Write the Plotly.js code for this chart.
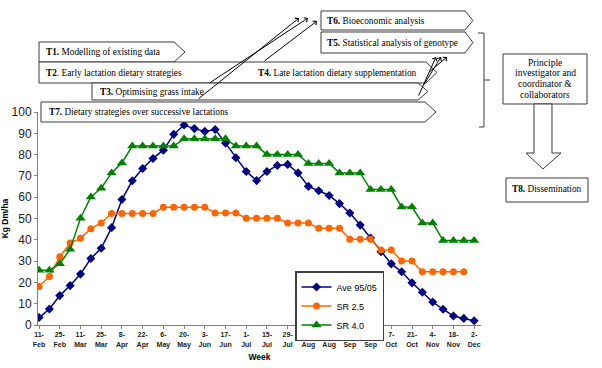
<!DOCTYPE html>
<html><head><meta charset="utf-8">
<script src="https://cdn.plot.ly/plotly-3.0.1.min.js"></script>
<style>html,body{margin:0;padding:0;background:#fff;}#chart{width:602px;height:368px;}</style>
</head><body><div id="chart"></div>
<script>
// Weekly dates (category labels)
const weeks = ["11-<br>Feb","18-<br>Feb","25-<br>Feb","4-<br>Mar","11-<br>Mar","18-<br>Mar","25-<br>Mar","1-<br>Apr","8-<br>Apr","15-<br>Apr","22-<br>Apr","29-<br>Apr","6-<br>May","13-<br>May","20-<br>May","27-<br>May","3-<br>Jun","10-<br>Jun","17-<br>Jun","24-<br>Jun","1-<br>Jul","8-<br>Jul","15-<br>Jul","22-<br>Jul","29-<br>Jul","5-<br>Aug","12-<br>Aug","19-<br>Aug","26-<br>Aug","2-<br>Sep","9-<br>Sep","16-<br>Sep","23-<br>Sep","30-<br>Sep","7-<br>Oct","14-<br>Oct","21-<br>Oct","28-<br>Oct","4-<br>Nov","11-<br>Nov","18-<br>Nov","25-<br>Nov","2-<br>Dec"];
const seriesNames = ["Ave 95/05","SR 2.5","SR 4.0"];
const ave = [3.5,7.5,13.8,18.5,23.9,31.2,36,45.7,58.9,67.7,73.5,78.2,82.1,89.5,93.9,92.2,90.9,91.8,85.4,78.5,72.1,67.8,72.1,74.9,75.4,71.4,65.1,63,60.8,57,52.6,46.9,40.8,34.4,28.7,25,19.8,15.4,10.8,7.4,4.2,3.1,2];
const sr25 = [18.1,22.8,32,38.5,40.7,45.2,47.9,52.4,52.4,52.4,52.4,52.4,55.3,55.3,55.3,55.3,55.3,52.6,52.6,52.6,50.1,50.1,50.1,50.1,47.9,47.9,47.9,45.4,45.4,45.4,40.3,40.3,40.3,35.2,35.2,30.1,30.1,25,25,25,25,25];
const sr40 = [25.7,25.7,28.7,35.6,50.1,60.1,64.2,71.4,76.1,84,84,84,84,84,87.4,87.4,87.4,87.4,87.4,84,84,84,80.1,80.1,80.1,80.1,75.8,75.8,75.8,71.4,71.4,71.4,63.6,63.6,63.6,55.4,55.4,47.9,47.9,39.7,39.7,39.7,39.7];

// Diagram texts
const taskTexts = {
  T1:"<b>T1.</b> Modelling of existing data",
  T2:"<b>T2</b>. Early lactation dietary strategies",
  T3:"<b>T3.</b> Optimising grass intake",
  T4:"<b>T4.</b> Late lactation dietary supplementation",
  T5:"<b>T5.</b> Statistical analysis of genotype",
  T6:"<b>T6.</b> Bioeconomic analysis",
  T7:"<b>T7.</b> Dietary strategies over successive lactations",
  T8:"<b>T8.</b> Dissemination"
};
const piLines = ["Principle","investigator and","coordinator &amp;","collaborators"];

// pixel -> paper helpers (layout only)
const L=38, R=481, T=112, B=325;
const PX = x => (x-L)/(R-L);
const PY = y => (B-y)/(B-T);
function poly(pts){return pts.map((p,i)=>(i?'L':'M')+PX(p[0]).toFixed(5)+','+PY(p[1]).toFixed(5)).join(' ')+' Z';}
function open(pts){return pts.map((p,i)=>(i?'L':'M')+PX(p[0]).toFixed(5)+','+PY(p[1]).toFixed(5)).join(' ');}
const lc='#3a3a3a';
function shp(path,fill){return {type:'path',xref:'paper',yref:'paper',path:path,line:{color:lc,width:1},fillcolor:fill||'rgba(0,0,0,0)',layer:'above'};}

const shapes=[
  shp(poly([[39,42],[174,42],[185,52],[174,62],[39,62]]),'#fff'),
  shp(poly([[39,62],[426,62],[437,72.5],[426,83],[39,83]]),'#fff'),
  shp(poly([[92,83],[418,83],[428,91.5],[418,100],[92,100]]),'#fff'),
  shp(poly([[41,102],[425,102],[436,112],[425,122],[41,122]]),'#fff'),
  shp(poly([[321,11],[465,11],[473,20.5],[465,30],[321,30]]),'#fff'),
  shp(poly([[321,32],[465,32],[473,42.5],[465,53],[321,53]]),'#fff'),
  shp(poly([[503,54],[587,54],[587,104],[503,104]]),'#fff'),
  shp(poly([[534,104],[552,104],[552,153],[561,153],[543,169],[526,153],[534,153]]),'#fff'),
  shp(poly([[506,178],[588,178],[588,202],[506,202]]),'#fff'),
  shp(open([[478,33],[484,33],[484,127],[479,127]])),
  shp(open([[484,80],[490,80]]))
];

const serif='"Liberation Serif", "DejaVu Serif", serif';
function txt(t,x,y,xa,size){return {text:t,xref:'paper',yref:'paper',x:PX(x),y:PY(y),xanchor:xa||'left',yanchor:'middle',showarrow:false,font:{family:serif,size:size||9.3,color:'#000'},align:'center'};}
function arr(hx,hy,tx,ty){return {text:'',xref:'paper',yref:'paper',x:PX(hx),y:PY(hy),ax:tx-hx,ay:ty-hy,showarrow:true,arrowhead:4,arrowsize:1,arrowwidth:1,arrowcolor:'#000',standoff:0,startstandoff:0};}

const annotations=[
  txt(taskTexts.T1,44,52),
  txt(taskTexts.T2,44,73),
  txt(taskTexts.T4,256,73),
  txt(taskTexts.T3,98,91.5),
  txt(taskTexts.T7,47,112),
  txt(taskTexts.T6,325,21),
  txt(taskTexts.T5,325,43),
  txt(piLines[0],545,63,'center',9.5),
  txt(piLines[1],545,73.5,'center',9.5),
  txt(piLines[2],545,84,'center',9.5),
  txt(piLines[3],545,94.5,'center',9.5),
  txt(taskTexts.T8,547,189,'center'),
  arr(299,18,197,100),
  arr(308,18,208,84),
  arr(317,21,263,62),
  arr(436,57,418,97),
  arr(441,57,423,86),
  arr(447,57,428,73)
];

const traces=[
  {x:weeks,y:ave,name:seriesNames[0],type:'scatter',mode:'lines+markers',line:{color:'#000080',width:1.5},marker:{symbol:'diamond',size:7,color:'#000080'}},
  {x:weeks.slice(0,sr25.length),y:sr25,name:seriesNames[1],type:'scatter',mode:'lines+markers',line:{color:'#FF6600',width:1.5},marker:{symbol:'circle',size:7,color:'#FF6600'}},
  {x:weeks,y:sr40,name:seriesNames[2],type:'scatter',mode:'lines+markers',line:{color:'#008000',width:1.5},marker:{symbol:'triangle-up',size:9,color:'#008000'}}
];

const layout={
  width:602,height:368,
  margin:{l:L,r:602-R,t:T,b:368-B,pad:0},
  paper_bgcolor:'#fff',plot_bgcolor:'#fff',
  font:{family:'"Liberation Sans", Arial, sans-serif',color:'#000'},
  showlegend:true,
  legend:{x:PX(295),y:PY(271),xanchor:'left',yanchor:'top',bgcolor:'#fff',bordercolor:'#404040',borderwidth:1.5,font:{size:9,family:'"Liberation Sans", Arial, sans-serif'},tracegroupgap:0},
  xaxis:{type:'category',range:[-0.1,42.66],tickmode:'linear',tick0:0,dtick:2,showgrid:false,zeroline:false,showline:true,linecolor:'#808080',linewidth:1,ticks:'outside',ticklen:3,tickcolor:'#808080',tickangle:0,tickfont:{size:7,weight:'bold',color:'#222'},title:{text:'Week',font:{size:8.5,weight:'bold'},standoff:6}},
  yaxis:{range:[0,100],dtick:10,showgrid:false,zeroline:false,showline:true,linecolor:'#808080',linewidth:1,ticks:'outside',ticklen:3,tickcolor:'#808080',tickfont:{size:12,color:'#222'},title:{text:'Kg Dm/ha',font:{size:8.5,weight:'bold'},standoff:2}},
  shapes:shapes,
  annotations:annotations
};
Plotly.newPlot('chart',traces,layout,{displayModeBar:false,staticPlot:true});
</script></body></html>
